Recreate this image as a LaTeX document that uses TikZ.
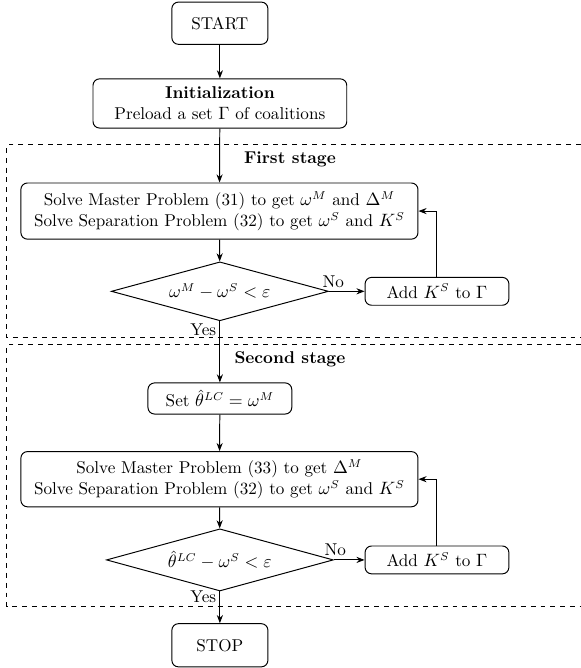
\documentclass[tikz,border=0pt]{standalone}
\usetikzlibrary{shapes.geometric,arrows.meta}
\begin{document}
\begin{tikzpicture}[
    font=\fontsize{10.5}{12.8}\selectfont,
    box/.style={rectangle,rounded corners=4pt,semithick,draw,align=center},
    test/.style={diamond,aspect=3.7,semithick,draw,inner sep=1pt},
    stage/.style={semithick,dashed},
  ]
    \useasboundingbox (0,0) rectangle (12.52,-14.40);
    % stage frames
    \draw[stage] (12.52,-3.12) -| (0.15,-7.28) -- (12.52,-7.28);
    \draw[stage] (12.52,-7.43) -| (0.15,-13.08) -- (12.52,-13.08);
    \node at (6.25,-3.43) {\textbf{First stage}};
    \node at (6.25,-7.74) {\textbf{Second stage}};
    \begin{scope}[every node/.style={box}]
      \node[minimum width=2.07cm,minimum height=0.91cm] (start) at (4.74,-0.50) {START};
      \node[minimum width=5.47cm,minimum height=1.06cm] (init) at (4.74,-2.23) {\textbf{Initialization}\\Preload a set $\Gamma$ of coalitions};
      \node[minimum width=8.56cm,minimum height=1.21cm] (m1) at (4.73,-4.55) {Solve Master Problem (31) to get $\omega^M$ and $\Delta^M$\\Solve Separation Problem (32) to get $\omega^S$ and $K^S$};
      \node[minimum width=3.10cm,minimum height=0.60cm] (k1) at (9.42,-6.28) {Add $K^S$ to $\Gamma$};
      \node[minimum width=3.10cm,minimum height=0.67cm] (set) at (4.74,-8.59) {Set $\hat{\theta}^{LC}=\omega^M$};
      \node[minimum width=8.56cm,minimum height=1.19cm] (m2) at (4.73,-10.33) {Solve Master Problem (33) to get $\Delta^M$\\Solve Separation Problem (32) to get $\omega^S$ and $K^S$};
      \node[minimum width=3.10cm,minimum height=0.60cm] (k2) at (9.42,-12.07) {Add $K^S$ to $\Gamma$};
      \node[minimum width=2.07cm,minimum height=0.93cm] (stop) at (4.74,-13.91) {STOP};
    \end{scope}
    \begin{scope}[every node/.style={test}]
      \node[minimum width=4.68cm,minimum height=1.27cm] (d1) at (4.74,-6.28) {$\omega^M-\omega^S<\varepsilon$};
      \node[minimum width=4.89cm,minimum height=1.34cm] (d2) at (4.74,-12.07) {$\hat{\theta}^{LC}-\omega^S<\varepsilon$};
    \end{scope}
    \begin{scope}[every edge/.style={draw=black,semithick,-{Stealth[length=5pt]}}]
      \path (start) edge (init);
      \path (init) edge (m1);
      \path (m1) edge (d1);
      \path (d1) edge node[pos=0.12,above,inner sep=2pt] {No} (k1);
      \path (d1) edge node[pos=0.14,left,inner sep=2pt] {Yes} (set);
      \path (set) edge (m2);
      \path (m2) edge (d2);
      \path (d2) edge node[pos=0.05,above,inner sep=2pt] {No} (k2);
      \path (d2) edge node[pos=0.15,left,inner sep=2pt] {Yes} (stop);
    \end{scope}
    \draw[semithick,-{Stealth[length=5pt]}] (k1) |- (m1);
    \draw[semithick,-{Stealth[length=5pt]}] (k2) |- (m2);
  \end{tikzpicture}
\end{document}
